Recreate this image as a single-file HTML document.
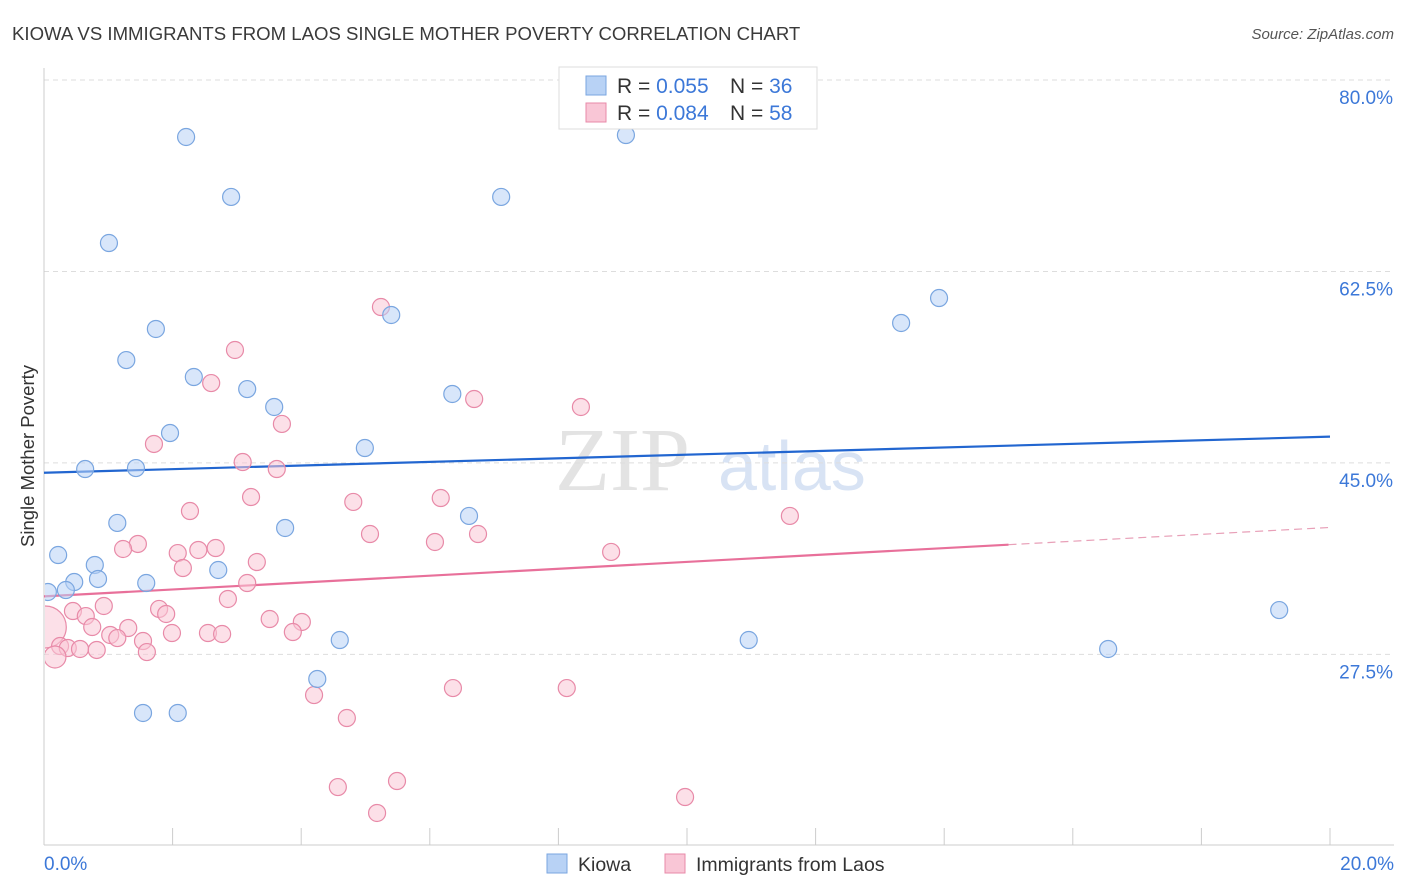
<!DOCTYPE html>
<html><head><meta charset="utf-8"><style>
body{margin:0;background:#fff;font-family:"Liberation Sans",sans-serif}
svg{display:block}
</style></head><body>
<svg id="c" width="1406" height="892">
<defs><clipPath id="pc"><rect x="45" y="60" width="1360" height="785"/></clipPath></defs>
<text x="12" y="40" font-size="18.6" fill="#3a3a3a">KIOWA VS IMMIGRANTS FROM LAOS SINGLE MOTHER POVERTY CORRELATION CHART</text>
<text x="1394" y="39" font-size="15" fill="#555" text-anchor="end" font-style="italic">Source: ZipAtlas.com</text>
<text x="34" y="456" font-size="18.5" fill="#333" text-anchor="middle" transform="rotate(-90 34 456)">Single Mother Poverty</text>
<g><text x="555" y="490" font-size="90" fill="#ddd" font-family="Liberation Serif,serif" opacity="0.8">ZIP</text><text x="718" y="490" font-size="70" fill="#c8d8f0" opacity="0.7">atlas</text></g>
<g id="grid"></g><g id="axes"></g><g id="lines"></g><g id="pts" clip-path="url(#pc)"></g>
<g>
<rect x="559" y="67" width="258" height="62" fill="#fff" stroke="#ddd"/>
<rect x="586" y="76" width="20" height="19" fill="#b8d2f5" stroke="#7aa6e0"/>
<rect x="586" y="103" width="20" height="19" fill="#f9c6d6" stroke="#e88aa8"/>
<text x="617" y="93" font-size="21" fill="#333">R = <tspan fill="#3c78d8">0.055</tspan><tspan x="730">N = </tspan><tspan fill="#3c78d8">36</tspan></text>
<text x="617" y="120" font-size="21" fill="#333">R = <tspan fill="#3c78d8">0.084</tspan><tspan x="730">N = </tspan><tspan fill="#3c78d8">58</tspan></text>
</g>
<g>
<rect x="547" y="854" width="20" height="19" fill="#b8d2f5" stroke="#7aa6e0"/>
<text x="578" y="871" font-size="19.5" fill="#333">Kiowa</text>
<rect x="665" y="854" width="20" height="19" fill="#f9c6d6" stroke="#e88aa8"/>
<text x="696" y="871" font-size="19.5" fill="#333">Immigrants from Laos</text>
</g>
</svg>
<script>
const yTicks=[27.5,45.0,62.5,80.0];
const yTickLabels=["27.5%","45.0%","62.5%","80.0%"];
const xTickLabels=["0.0%","20.0%"];
const kiowaX=[2.21,2.91,1.01,7.11,9.05,1.74,1.28,5.40,13.92,13.33,2.33,3.16,3.58,6.35,1.96,4.99,0.64,1.43,6.61,1.14,3.75,0.22,0.79,0.84,0.47,0.34,1.59,2.71,0.06,4.60,10.96,16.55,19.21,4.25,1.54,2.08];
const kiowaY=[74.79,69.31,65.1,69.31,74.97,57.24,54.4,58.52,60.07,57.79,52.85,51.75,50.11,51.3,47.73,46.36,44.44,44.53,40.15,39.51,39.05,36.58,35.67,34.39,34.11,33.38,34.02,35.21,33.2,28.81,28.81,27.99,31.55,25.25,22.14,22.14];
const laosX=[5.24,2.97,2.60,6.69,8.35,3.70,1.71,3.09,3.62,3.22,4.81,6.17,2.27,11.60,5.07,6.75,6.08,1.46,1.23,2.08,2.40,2.67,8.82,3.31,2.16,3.16,2.86,0.93,0.45,1.79,1.90,0.65,3.51,4.01,0.75,1.31,3.87,1.99,2.55,2.77,1.03,1.14,1.54,0.02,0.25,0.37,0.56,0.82,1.60,0.17,4.20,6.36,8.13,4.71,4.57,5.49,5.18,9.97];
const laosY=[59.25,55.32,52.3,50.84,50.11,48.56,46.73,45.08,44.44,41.88,41.43,41.79,40.6,40.15,38.5,38.5,37.77,37.59,37.13,36.76,37.04,37.22,36.86,35.94,35.39,34.02,32.56,31.92,31.46,31.65,31.19,31.0,30.73,30.46,30.0,29.91,29.54,29.45,29.45,29.36,29.27,28.99,28.72,30.0,28.26,28.08,27.99,27.9,27.71,27.26,23.78,24.42,24.42,21.68,15.37,15.92,13.0,14.46];
const laosR=[8.5,8.5,8.5,8.5,8.5,8.5,8.5,8.5,8.5,8.5,8.5,8.5,8.5,8.5,8.5,8.5,8.5,8.5,8.5,8.5,8.5,8.5,8.5,8.5,8.5,8.5,8.5,8.5,8.5,8.5,8.5,8.5,8.5,8.5,8.5,8.5,8.5,8.5,8.5,8.5,8.5,8.5,8.5,21,8.5,8.5,8.5,8.5,8.5,11,8.5,8.5,8.5,8.5,8.5,8.5,8.5,8.5];
const kiowaTrend=[44.1,47.4];
const laosTrend=[32.8,39.1];
const X=v=>44+v*64.3, Y=v=>80+(80-v)*10.94;
const NS="http://www.w3.org/2000/svg";
function mk(t,a,p){const e=document.createElementNS(NS,t);for(const k in a)e.setAttribute(k,a[k]);p.appendChild(e);return e;}
const g=document.getElementById('grid'),ax=document.getElementById('axes'),ln=document.getElementById('lines'),pts=document.getElementById('pts');
yTicks.forEach((t,i)=>{
 const l=mk('line',{x1:44,x2:1394,y1:Y(t),y2:Y(t),stroke:'#ddd','stroke-dasharray':'5,4'},g);
 
 
 const tx=mk('text',{x:1393,y:Y(t)+24,'font-size':19,fill:'#3c78d8','text-anchor':'end'},ax);
 tx.textContent=yTickLabels[i];
 
 
});
const xa=mk('line',{x1:44,x2:1394,y1:845,y2:845,stroke:'#ccc'},ax);


const ya=mk('line',{x1:44,x2:44,y1:68,y2:845,stroke:'#ccc'},ax);


for(let i=0;i<=10;i++){const t=mk('line',{x1:X(i*2),x2:X(i*2),y1:828,y2:845,stroke:'#ccc'},ax);
 
 }
[[0,'start',44],[20,'end',1394]].forEach((d,i)=>{const t=mk('text',{x:d[2],y:870,'font-size':19,fill:'#3c78d8','text-anchor':d[1]},ax);t.textContent=xTickLabels[i];
 
 });
function pt(x,y,r,f,s,n){const c=mk('circle',{cx:X(x),cy:Y(y),r:r,fill:f,'fill-opacity':0.55,stroke:s,'stroke-width':1.2},pts);
 
 }
laosX.forEach((x,i)=>pt(x,laosY[i],laosR[i],'#f9c6d6','#e88aa8','laos-point'));
kiowaX.forEach((x,i)=>pt(x,kiowaY[i],8.5,'#b8d2f5','#7aa6e0','kiowa-point'));
const bl=mk('line',{x1:X(0),y1:Y(kiowaTrend[0]),x2:X(20),y2:Y(kiowaTrend[1]),stroke:'#2266d0','stroke-width':2.2},ln);


const pe=15, py=laosTrend[0]+(laosTrend[1]-laosTrend[0])*pe/20;
const pl=mk('line',{x1:X(0),y1:Y(laosTrend[0]),x2:X(pe),y2:Y(py),stroke:'#e8709a','stroke-width':2.2},ln);


const pd=mk('line',{x1:X(pe),y1:Y(py),x2:X(20),y2:Y(laosTrend[1]),stroke:'#e8a0b8','stroke-width':1.2,'stroke-dasharray':'8,5'},ln);


</script>
</body></html>
